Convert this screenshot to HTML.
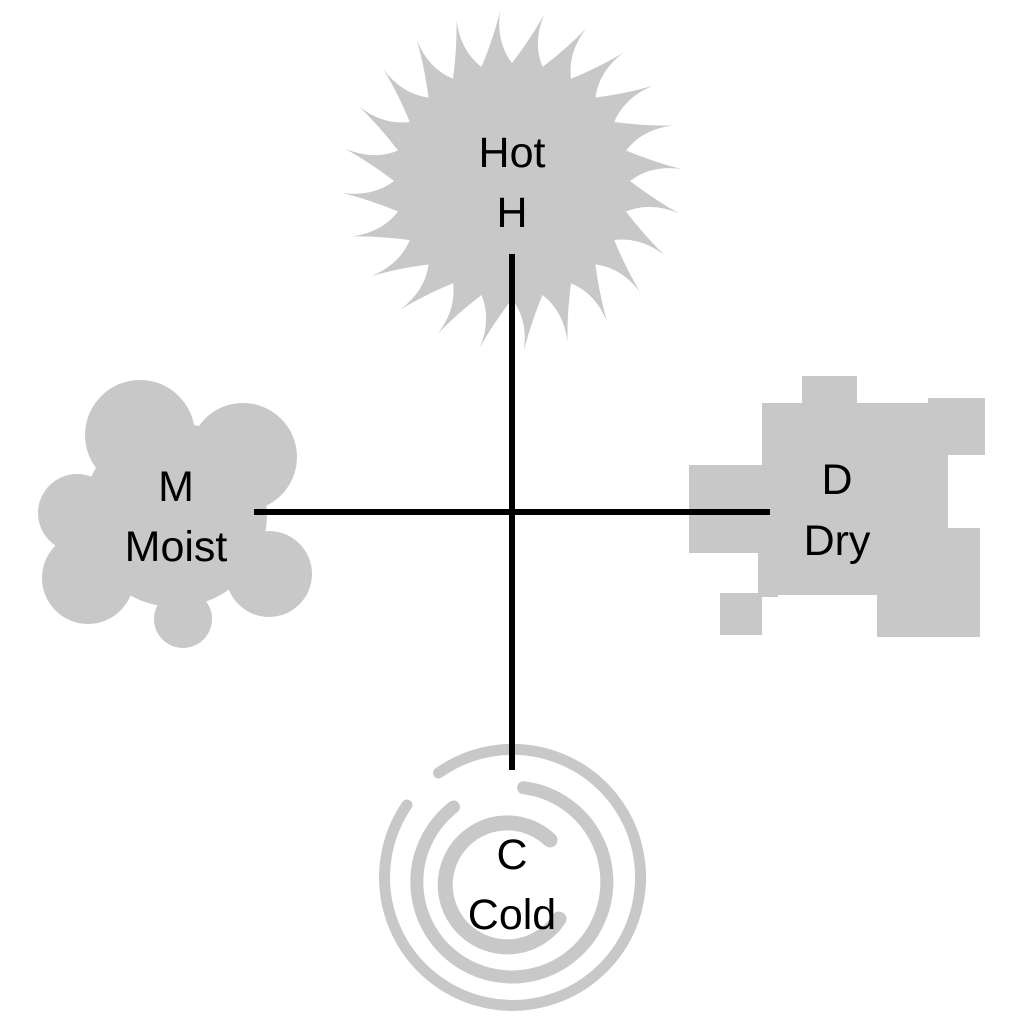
<!DOCTYPE html>
<html><head><meta charset="utf-8"><style>
html,body{margin:0;padding:0;background:#fff;}
svg{display:block;}
text{font-family:"Liberation Sans",sans-serif;font-size:43px;fill:#000;text-anchor:middle;}
</style></head><body>
<svg id="s" width="1024" height="1024" viewBox="0 0 1024 1024">
<path id="sun" fill="#c8c8c8" d=""/>
<g fill="#c8c8c8">
<circle cx="175" cy="515" r="92"/>
<circle cx="140" cy="435" r="55"/>
<circle cx="243" cy="457" r="54"/>
<circle cx="77" cy="513" r="39"/>
<circle cx="88" cy="578" r="46"/>
<circle cx="269" cy="574" r="43"/>
<circle cx="183" cy="619" r="29"/>
</g>
<g fill="#c8c8c8">
<rect x="802" y="376" width="55" height="40"/>
<rect x="762" y="403" width="186" height="192"/>
<rect x="928" y="398" width="57" height="57"/>
<rect x="689" y="465" width="80" height="88"/>
<rect x="758" y="540" width="20" height="57"/>
<rect x="877" y="528" width="103" height="109"/>
<rect x="720" y="593" width="42" height="42"/>
</g>
<g fill="none" stroke="#c8c8c8" stroke-linecap="round">
<path d="M438.5 773 A128 128 0 1 1 407 805" stroke-width="11"/>
<path d="M523.6 787.7 A95 95 0 1 1 453.5 807" stroke-width="13"/>
<path d="M550 840 A62 62 0 1 0 559 919" stroke-width="15"/>
</g>
<g stroke="#000" stroke-width="6">
<line x1="512" y1="254" x2="512" y2="770"/>
<line x1="254" y1="512" x2="770" y2="512"/>
</g>
<text x="512" y="167">Hot</text>
<text x="512" y="227">H</text>
<text x="176" y="501">M</text>
<text x="176" y="561">Moist</text>
<text x="837" y="494">D</text>
<text x="837" y="555">Dry</text>
<text x="512" y="869">C</text>
<text x="512" y="929">Cold</text>
</svg>
<script>
(function(){
var cx=512,cy=181,n=24,rIn=118,rOut=170,d="";
for(var i=0;i<n;i++){
 var a0=(i/n)*2*Math.PI-Math.PI/2, a1=((i+0.5)/n)*2*Math.PI-Math.PI/2, a2=((i+1)/n)*2*Math.PI-Math.PI/2;
 var p0=[cx+rIn*Math.cos(a0),cy+rIn*Math.sin(a0)];
 var tip=[cx+rOut*Math.cos(a1+0.06),cy+rOut*Math.sin(a1+0.06)];
 var p2=[cx+rIn*Math.cos(a2),cy+rIn*Math.sin(a2)];
 var am=(a0+a1)/2, c1=[cx+145*Math.cos(am+0.07),cy+145*Math.sin(am+0.07)];
 var am2=(a1+a2)/2, c2=[cx+140*Math.cos(am2-0.05),cy+140*Math.sin(am2-0.05)];
 if(i==0)d+="M"+p0[0].toFixed(1)+" "+p0[1].toFixed(1);
 d+=" Q"+c1[0].toFixed(1)+" "+c1[1].toFixed(1)+" "+tip[0].toFixed(1)+" "+tip[1].toFixed(1);
 d+=" Q"+c2[0].toFixed(1)+" "+c2[1].toFixed(1)+" "+p2[0].toFixed(1)+" "+p2[1].toFixed(1);
}
d+="Z";
document.getElementById("sun").setAttribute("d",d);
})();
</script>
</body></html>
